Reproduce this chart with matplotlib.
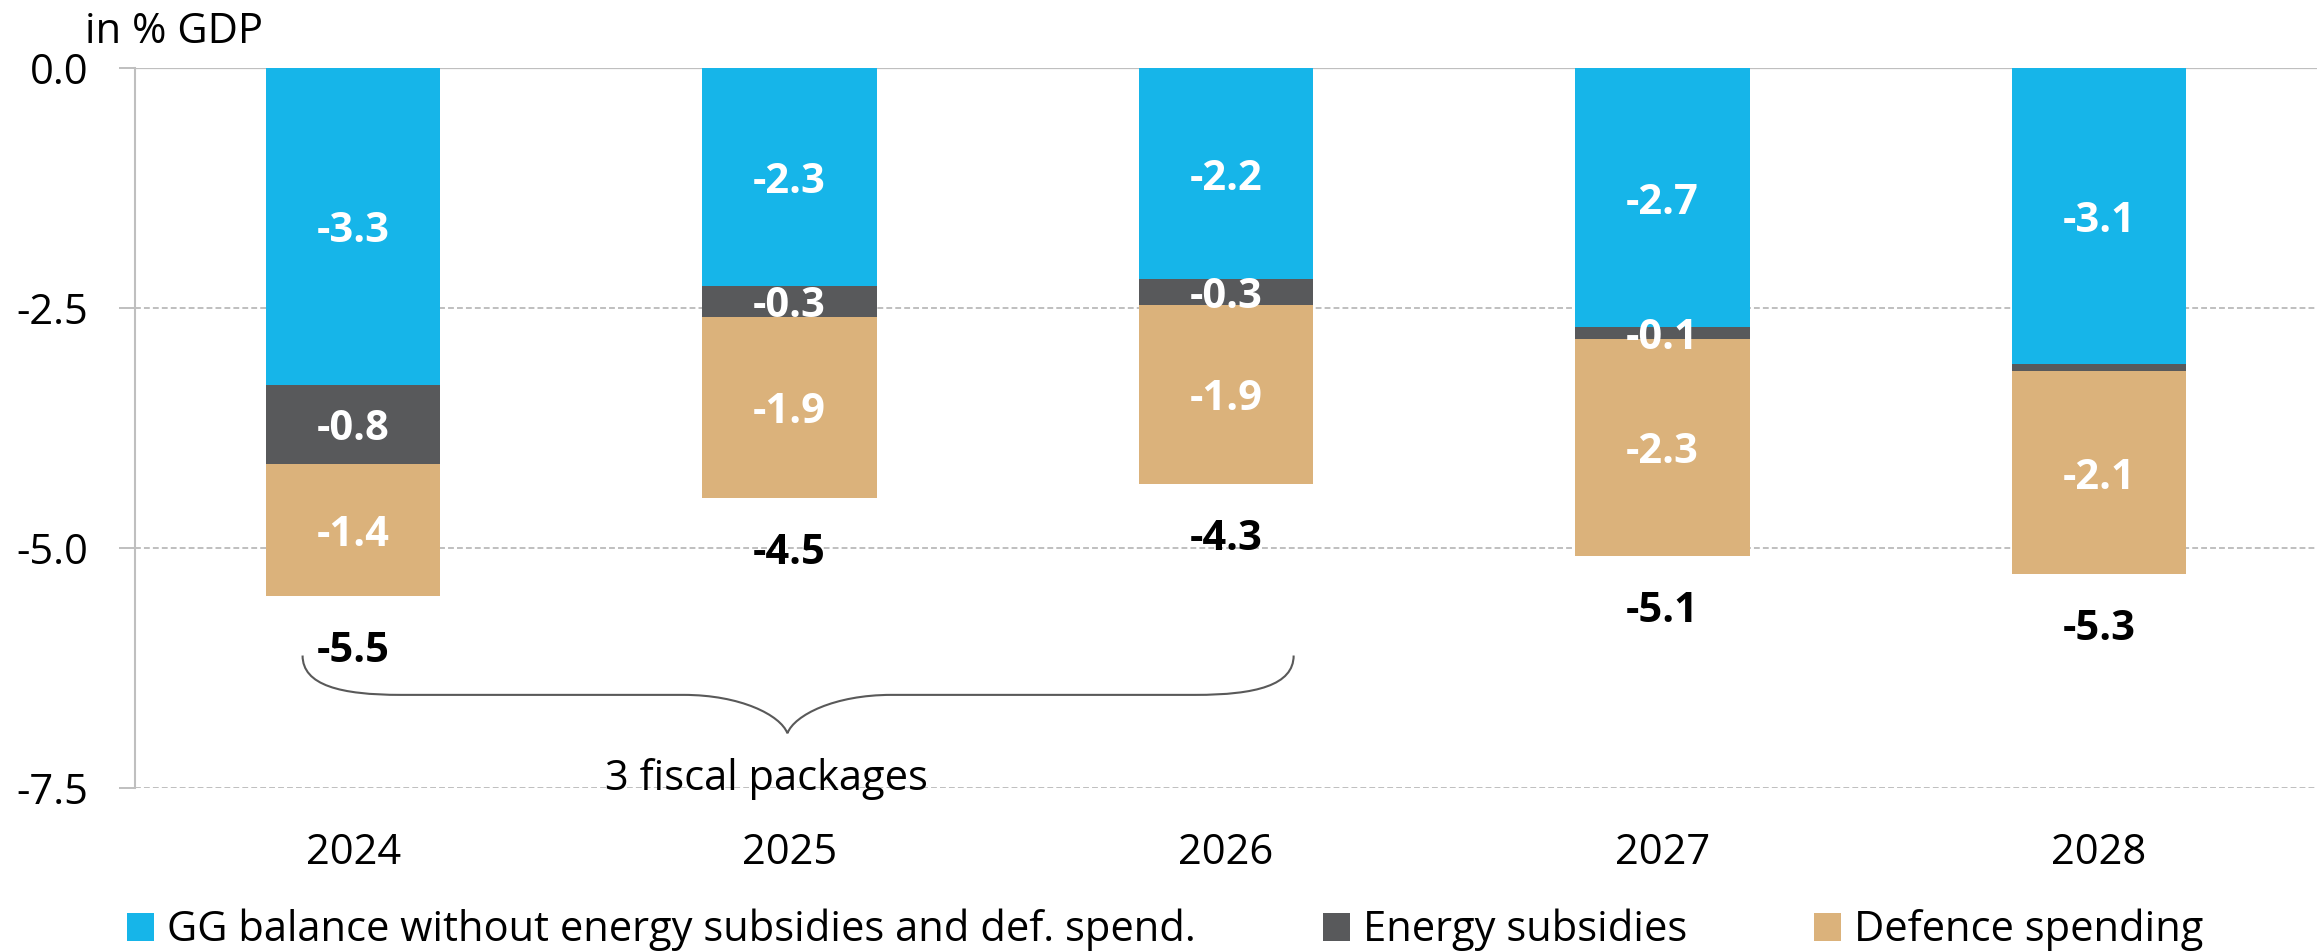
import numpy as np
import matplotlib
matplotlib.use('Agg')
import matplotlib.pyplot as plt
from matplotlib.path import Path
from matplotlib.patches import PathPatch
from matplotlib.ticker import FormatStrFormatter

# general government balance split, in % of GDP
years = ['2024', '2025', '2026', '2027', '2028']
gg_balance = [-3.30, -2.27, -2.20, -2.70, -3.08]
energy_subsidies = [-0.82, -0.32, -0.27, -0.12, -0.08]
defence_spending = [-1.38, -1.89, -1.86, -2.26, -2.11]

series_names = ['GG balance without energy subsidies and def. spend.',
                'Energy subsidies', 'Defence spending']
series_colors = ['#16B5E9', '#58595B', '#DBB27B']

y_ticks = [0.0, -2.5, -5.0, -7.5]
unit_label = 'in % GDP'
brace_label = '3 fiscal packages'

plt.rcParams['font.family'] = ['Open Sans', 'DejaVu Sans']
plt.rcParams['font.size'] = 30
plt.rcParams['axes.unicode_minus'] = False

W, H = 2318, 952
fig = plt.figure(figsize=(W / 100, H / 100), dpi=100)
ax = fig.add_axes([135 / W, 1 - 788 / H, (2317 - 135) / W, 720 / H])

x = np.arange(len(years))
width = 0.40
grey = '#BFBFBF'

bottom = np.zeros(len(years))
for vals, name, color in zip([gg_balance, energy_subsidies, defence_spending],
                             series_names, series_colors):
    vals = np.array(vals)
    ax.bar(x, vals, width, bottom=bottom, color=color, label=name, zorder=3)
    for xi, b, v in zip(x, bottom, vals):
        if abs(v) < 0.1:
            continue
        ax.annotate(f'{v:.1f}', (xi, b + v / 2), xytext=(0, -4),
                    textcoords='offset points', ha='center', va='center',
                    color='white', fontweight='bold', zorder=4)
    bottom += vals

# totals under each bar
for xi, t in zip(x, bottom):
    ax.annotate(f'{t:.1f}', (xi, t), xytext=(0, -40), textcoords='offset points',
                ha='center', va='center', fontweight='bold', color='black')


def draw_brace(ax, xl, xr, xt, y_end, y_line, y_tip, curl=0.225, cusp=0.238):
    verts = [
        (xl, y_end),
        (xl, y_line + 0.10), (xl + 0.087, y_line), (xl + curl, y_line),
        (xt - cusp, y_line),
        (xt - 0.108, y_line), (xt - 0.016, y_line - 0.21), (xt, y_tip),
        (xt + 0.016, y_line - 0.21), (xt + 0.108, y_line), (xt + cusp, y_line),
        (xr - curl, y_line),
        (xr - 0.087, y_line), (xr, y_line + 0.10), (xr, y_end),
    ]
    codes = [Path.MOVETO,
             Path.CURVE4, Path.CURVE4, Path.CURVE4,
             Path.LINETO,
             Path.CURVE4, Path.CURVE4, Path.CURVE4,
             Path.CURVE4, Path.CURVE4, Path.CURVE4,
             Path.LINETO,
             Path.CURVE4, Path.CURVE4, Path.CURVE4]
    patch = PathPatch(Path(verts, codes), fill=False, edgecolor='#595959',
                      lw=1.5, clip_on=False, zorder=5)
    ax.add_patch(patch)


draw_brace(ax, -0.116, 2.155, 0.995, -6.12, -6.53, -6.93)
ax.text(0.947, -7.52, brace_label, ha='center', va='baseline', zorder=5)

ax.set_xlim(-0.5, 4.5)
ax.set_ylim(-7.5, 0)
ax.set_xticks(x)
ax.set_xticklabels(years)
ax.set_yticks(y_ticks)
ax.yaxis.set_major_formatter(FormatStrFormatter('%.1f'))

ax.grid(axis='y', color=grey, lw=1.4, linestyle=(0, (3, 1.6)), zorder=0)
ax.axhline(0, color=grey, lw=1.6, zorder=2)
ax.set_axisbelow(True)

for side in ['top', 'right', 'bottom']:
    ax.spines[side].set_visible(False)
ax.spines['left'].set_color(grey)
ax.spines['left'].set_linewidth(1.5)

ax.tick_params(axis='y', length=11.5, width=1.4, color=grey, pad=22)
ax.tick_params(axis='x', length=0, pad=32)

fig.text(85 / W, 1 - 43 / H, unit_label, ha='left', va='baseline')

fig.legend(loc='center', bbox_to_anchor=(1165 / W, 22 / H), ncol=3, frameon=False,
           handlelength=0.65, handleheight=0.65, handletextpad=0.31,
           columnspacing=3.05, borderpad=0, borderaxespad=0)

fig.savefig('out.png', dpi=100)
